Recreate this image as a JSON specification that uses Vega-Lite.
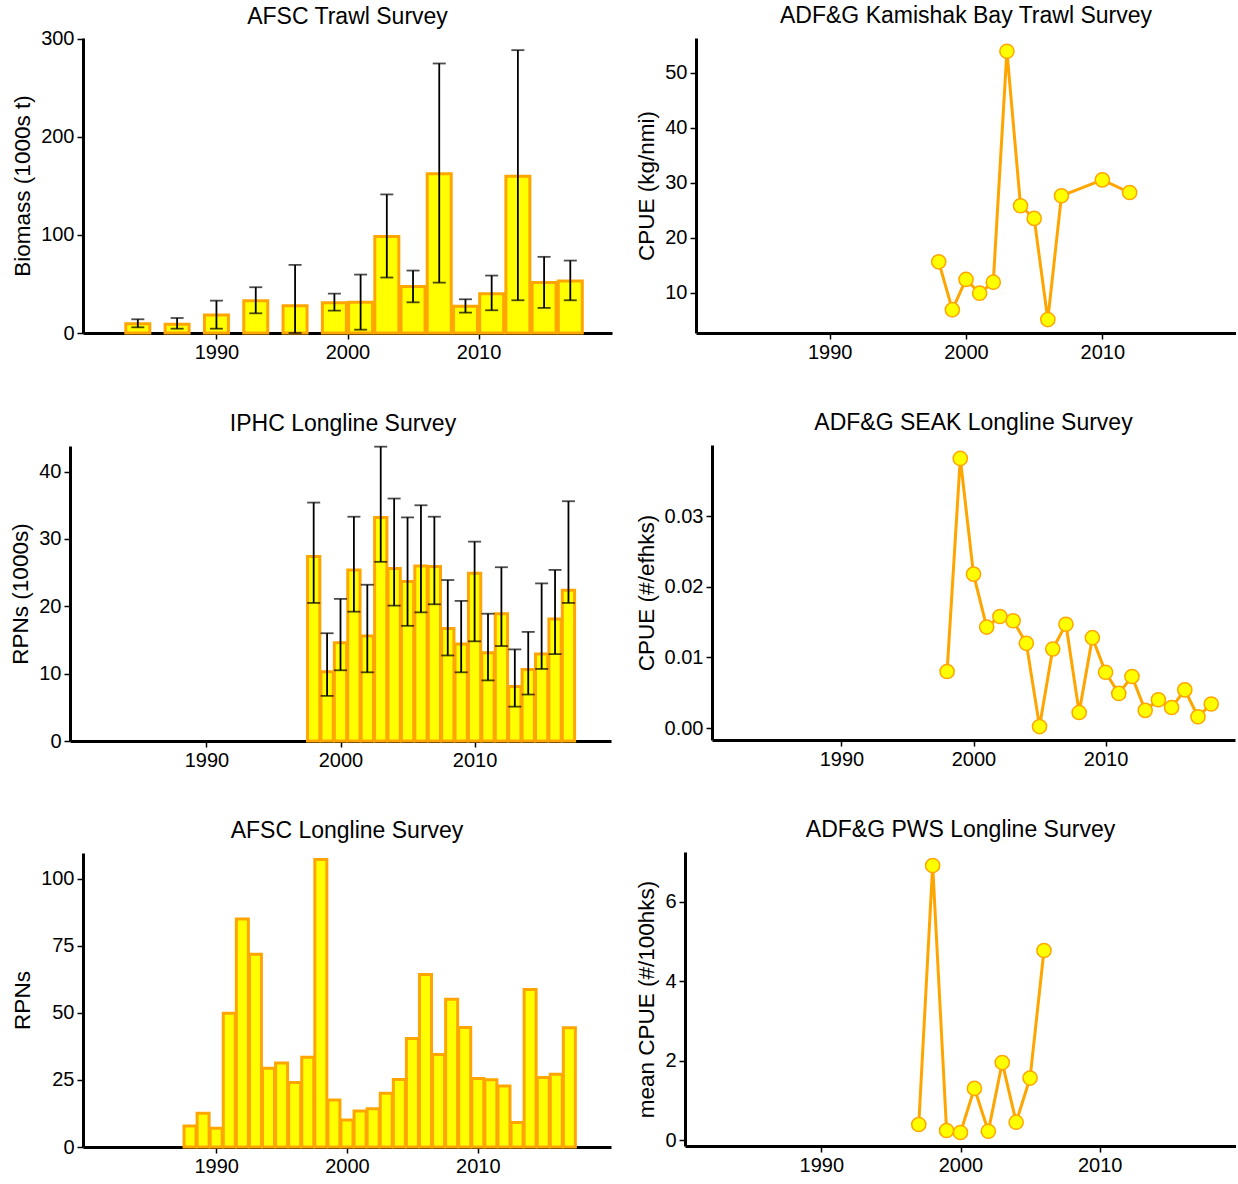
{
  "$schema": "https://vega.github.io/schema/vega-lite/v6.json",
  "background": "white",
  "padding": {"left": 9, "top": 5, "right": 0, "bottom": 0},
  "config": {
    "font": "Liberation Sans",
    "view": {"stroke": null},
    "title": {"fontSize": 23, "font": "Liberation Sans", "fontWeight": "normal", "color": "black", "frame": "group", "anchor": "middle", "offset": 10},
    "axis": {"domainColor": "black", "domainWidth": 3, "tickColor": "black", "tickWidth": 1.5, "tickSize": 6, "labelColor": "black", "labelFontSize": 20, "labelFont": "Liberation Sans", "titleFont": "Liberation Sans", "titleFontSize": 22.5, "titleFontWeight": "normal", "titleColor": "black", "grid": false, "labelPadding": 3, "titlePadding": 6, "labelFlush": false, "labelOverlap": false}
  },
  "datasets": {
    "afsc_trawl": [
      {"year": 1984, "biomass": 9.5, "lo": 5.8, "hi": 14},
      {"year": 1987, "biomass": 9, "lo": 4.4, "hi": 15.3},
      {"year": 1990, "biomass": 18.3, "lo": 4.4, "hi": 33},
      {"year": 1993, "biomass": 33, "lo": 20.1, "hi": 46.7},
      {"year": 1996, "biomass": 27.8, "lo": 0, "hi": 69.5},
      {"year": 1999, "biomass": 30.8, "lo": 22.8, "hi": 40.2},
      {"year": 2001, "biomass": 31.5, "lo": 3.4, "hi": 59.6},
      {"year": 2003, "biomass": 98.5, "lo": 56.6, "hi": 141.4},
      {"year": 2005, "biomass": 47.5, "lo": 31.3, "hi": 63.7},
      {"year": 2007, "biomass": 162.5, "lo": 51.4, "hi": 275},
      {"year": 2009, "biomass": 27.4, "lo": 20.8, "hi": 34.4},
      {"year": 2011, "biomass": 40, "lo": 23.2, "hi": 58.6},
      {"year": 2013, "biomass": 160, "lo": 33.4, "hi": 288.6},
      {"year": 2015, "biomass": 51.6, "lo": 25.6, "hi": 77.7},
      {"year": 2017, "biomass": 53.1, "lo": 33.4, "hi": 73.9}
    ],
    "kamishak": [
      {"year": 1998, "cpue": 15.6}, {"year": 1999, "cpue": 6.9}, {"year": 2000, "cpue": 12.4},
      {"year": 2001, "cpue": 9.9}, {"year": 2002, "cpue": 11.9}, {"year": 2003, "cpue": 53.9},
      {"year": 2004, "cpue": 25.8}, {"year": 2005, "cpue": 23.5}, {"year": 2006, "cpue": 5.1},
      {"year": 2007, "cpue": 27.6}, {"year": 2010, "cpue": 30.5}, {"year": 2012, "cpue": 28.2}
    ],
    "iphc": [
      {"year": 1998, "rpn": 27.4, "lo": 20.5, "hi": 35.4},
      {"year": 1999, "rpn": 10.3, "lo": 6.7, "hi": 16.0},
      {"year": 2000, "rpn": 14.6, "lo": 10.5, "hi": 21.1},
      {"year": 2001, "rpn": 25.4, "lo": 19.2, "hi": 33.3},
      {"year": 2002, "rpn": 15.6, "lo": 10.2, "hi": 23.2},
      {"year": 2003, "rpn": 33.2, "lo": 26.6, "hi": 43.7},
      {"year": 2004, "rpn": 25.6, "lo": 20.1, "hi": 36.0},
      {"year": 2005, "rpn": 23.7, "lo": 17.1, "hi": 33.2},
      {"year": 2006, "rpn": 26.0, "lo": 19.1, "hi": 35.0},
      {"year": 2007, "rpn": 25.9, "lo": 20.3, "hi": 33.3},
      {"year": 2008, "rpn": 16.7, "lo": 12.7, "hi": 23.9},
      {"year": 2009, "rpn": 14.4, "lo": 10.2, "hi": 20.8},
      {"year": 2010, "rpn": 24.9, "lo": 14.8, "hi": 29.6},
      {"year": 2011, "rpn": 13.1, "lo": 9.0, "hi": 18.9},
      {"year": 2012, "rpn": 18.9, "lo": 14.1, "hi": 25.8},
      {"year": 2013, "rpn": 8.1, "lo": 5.1, "hi": 13.6},
      {"year": 2014, "rpn": 10.6, "lo": 6.9, "hi": 16.2},
      {"year": 2015, "rpn": 12.9, "lo": 10.7, "hi": 23.4},
      {"year": 2016, "rpn": 18.1, "lo": 12.9, "hi": 25.4},
      {"year": 2017, "rpn": 22.4, "lo": 20.5, "hi": 35.6}
    ],
    "seak": [
      {"year": 1998, "cpue": 0.0080}, {"year": 1999, "cpue": 0.0382}, {"year": 2000, "cpue": 0.0218},
      {"year": 2001, "cpue": 0.0143}, {"year": 2002, "cpue": 0.0158}, {"year": 2003, "cpue": 0.0152},
      {"year": 2004, "cpue": 0.0120}, {"year": 2005, "cpue": 0.0002}, {"year": 2006, "cpue": 0.0112},
      {"year": 2007, "cpue": 0.0147}, {"year": 2008, "cpue": 0.0022}, {"year": 2009, "cpue": 0.0128},
      {"year": 2010, "cpue": 0.0079}, {"year": 2011, "cpue": 0.0049}, {"year": 2012, "cpue": 0.0073},
      {"year": 2013, "cpue": 0.0025}, {"year": 2014, "cpue": 0.0040}, {"year": 2015, "cpue": 0.0029},
      {"year": 2016, "cpue": 0.0054}, {"year": 2017, "cpue": 0.0016}, {"year": 2018, "cpue": 0.0034}
    ],
    "afsc_ll": [
      {"year": 1988, "rpn": 7.8}, {"year": 1989, "rpn": 12.6}, {"year": 1990, "rpn": 7.0},
      {"year": 1991, "rpn": 49.9}, {"year": 1992, "rpn": 85.1}, {"year": 1993, "rpn": 71.9},
      {"year": 1994, "rpn": 29.4}, {"year": 1995, "rpn": 31.3}, {"year": 1996, "rpn": 24.1},
      {"year": 1997, "rpn": 33.5}, {"year": 1998, "rpn": 107.3}, {"year": 1999, "rpn": 17.5},
      {"year": 2000, "rpn": 10.1}, {"year": 2001, "rpn": 13.4}, {"year": 2002, "rpn": 14.3},
      {"year": 2003, "rpn": 20.1}, {"year": 2004, "rpn": 25.2}, {"year": 2005, "rpn": 40.5},
      {"year": 2006, "rpn": 64.4}, {"year": 2007, "rpn": 34.5}, {"year": 2008, "rpn": 55.1},
      {"year": 2009, "rpn": 44.6}, {"year": 2010, "rpn": 25.6}, {"year": 2011, "rpn": 25.1},
      {"year": 2012, "rpn": 22.8}, {"year": 2013, "rpn": 9.1}, {"year": 2014, "rpn": 58.8},
      {"year": 2015, "rpn": 25.9}, {"year": 2016, "rpn": 27.1}, {"year": 2017, "rpn": 44.5}
    ],
    "pws": [
      {"year": 1997, "cpue": 0.39}, {"year": 1998, "cpue": 6.91}, {"year": 1999, "cpue": 0.24},
      {"year": 2000, "cpue": 0.19}, {"year": 2001, "cpue": 1.30}, {"year": 2002, "cpue": 0.22},
      {"year": 2003, "cpue": 1.95}, {"year": 2004, "cpue": 0.45}, {"year": 2005, "cpue": 1.56},
      {"year": 2006, "cpue": 4.77}
    ]
  },
  "columns": 2,
  "align": "none",
  "spacing": {"row": 50, "column": 11},
  "concat": [
    {
      "title": {"text": "AFSC Trawl Survey", "offset": 0},
      "width": 529, "height": 295,
      "data": {"name": "afsc_trawl"},
      "layer": [
        {
          "mark": {"type": "bar", "width": 24, "fill": "#FFFF00", "stroke": "#FFA500", "strokeWidth": 3},
          "encoding": {
            "x": {"field": "year", "type": "quantitative", "title": null, "scale": {"domain": [1980.2, 2019.8], "nice": false, "zero": false}, "axis": {"values": [1990, 2000, 2010], "format": "d"}},
            "y": {"field": "biomass", "type": "quantitative", "title": "Biomass (1000s t)", "scale": {"domain": [0, 301], "nice": false}, "axis": {"values": [0, 100, 200, 300]}}
          }
        },
        {
          "mark": {"type": "errorbar", "ticks": {"size": 13, "color": "black", "thickness": 1.8}, "rule": {"color": "black", "strokeWidth": 1.8}},
          "encoding": {
            "x": {"field": "year", "type": "quantitative", "title": null},
            "y": {"field": "lo", "type": "quantitative", "title": "Biomass (1000s t)"},
            "y2": {"field": "hi"}
          }
        }
      ]
    },
    {
      "title": "ADF&G Kamishak Bay Trawl Survey",
      "width": 540, "height": 295,
      "data": {"name": "kamishak"},
      "encoding": {
        "x": {"field": "year", "type": "quantitative", "title": null, "scale": {"domain": [1980.2, 2019.8], "nice": false, "zero": false}, "axis": {"values": [1990, 2000, 2010], "format": "d"}},
        "y": {"field": "cpue", "type": "quantitative", "title": "CPUE (kg/nmi)", "scale": {"domain": [2.66, 56.3], "nice": false, "zero": false}, "axis": {"values": [10, 20, 30, 40, 50]}}
      },
      "layer": [
        {"mark": {"type": "line", "color": "#FFA500", "strokeWidth": 3}},
        {"mark": {"type": "point", "filled": true, "fill": "#FFFF00", "stroke": "#FFA500", "strokeWidth": 1.5, "size": 200, "opacity": 1}}
      ]
    },
    {
      "title": {"text": "IPHC Longline Survey", "dx": -4},
      "width": 528, "height": 295,
      "data": {"name": "iphc"},
      "layer": [
        {
          "mark": {"type": "bar", "width": 12.3, "fill": "#FFFF00", "stroke": "#FFA500", "strokeWidth": 3},
          "encoding": {
            "x": {"field": "year", "type": "quantitative", "title": null, "scale": {"domain": [1980.2, 2019.8], "nice": false, "zero": false, "range": [-13, 528]}, "axis": {"values": [1990, 2000, 2010], "format": "d"}},
            "y": {"field": "rpn", "type": "quantitative", "title": "RPNs (1000s)", "scale": {"domain": [0, 43.8], "nice": false}, "axis": {"values": [0, 10, 20, 30, 40], "offset": 13}}
          }
        },
        {
          "mark": {"type": "errorbar", "ticks": {"size": 13, "color": "black", "thickness": 1.8}, "rule": {"color": "black", "strokeWidth": 1.8}},
          "encoding": {
            "x": {"field": "year", "type": "quantitative", "title": null},
            "y": {"field": "lo", "type": "quantitative", "title": "RPNs (1000s)"},
            "y2": {"field": "hi"}
          }
        }
      ]
    },
    {
      "title": "ADF&G SEAK Longline Survey",
      "width": 523, "height": 295,
      "data": {"name": "seak"},
      "encoding": {
        "x": {"field": "year", "type": "quantitative", "title": null, "scale": {"domain": [1980.2, 2019.8], "nice": false, "zero": false}, "axis": {"values": [1990, 2000, 2010], "format": "d"}},
        "y": {"field": "cpue", "type": "quantitative", "title": "CPUE (#/efhks)", "scale": {"domain": [-0.0017, 0.0401], "nice": false, "zero": false}, "axis": {"values": [0, 0.01, 0.02, 0.03], "format": ".2f"}}
      },
      "layer": [
        {"mark": {"type": "line", "color": "#FFA500", "strokeWidth": 3}},
        {"mark": {"type": "point", "filled": true, "fill": "#FFFF00", "stroke": "#FFA500", "strokeWidth": 1.5, "size": 200, "opacity": 1}}
      ]
    },
    {
      "title": "AFSC Longline Survey",
      "width": 528, "height": 294,
      "data": {"name": "afsc_ll"},
      "mark": {"type": "bar", "width": 12, "fill": "#FFFF00", "stroke": "#FFA500", "strokeWidth": 3},
      "encoding": {
        "x": {"field": "year", "type": "quantitative", "title": null, "scale": {"domain": [1980.2, 2019.8], "nice": false, "zero": false}, "axis": {"values": [1990, 2000, 2010], "format": "d"}},
        "y": {"field": "rpn", "type": "quantitative", "title": "RPNs", "scale": {"domain": [0, 109.7], "nice": false}, "axis": {"values": [0, 25, 50, 75, 100]}}
      }
    },
    {
      "title": "ADF&G PWS Longline Survey",
      "width": 551, "height": 294,
      "data": {"name": "pws"},
      "encoding": {
        "x": {"field": "year", "type": "quantitative", "title": null, "scale": {"domain": [1980.2, 2019.8], "nice": false, "zero": false}, "axis": {"values": [1990, 2000, 2010], "format": "d"}},
        "y": {"field": "cpue", "type": "quantitative", "title": "mean CPUE (#/100hks)", "scale": {"domain": [-0.15, 7.25], "nice": false, "zero": false}, "axis": {"values": [0, 2, 4, 6]}}
      },
      "layer": [
        {"mark": {"type": "line", "color": "#FFA500", "strokeWidth": 3}},
        {"mark": {"type": "point", "filled": true, "fill": "#FFFF00", "stroke": "#FFA500", "strokeWidth": 1.5, "size": 200, "opacity": 1}}
      ]
    }
  ]
}
